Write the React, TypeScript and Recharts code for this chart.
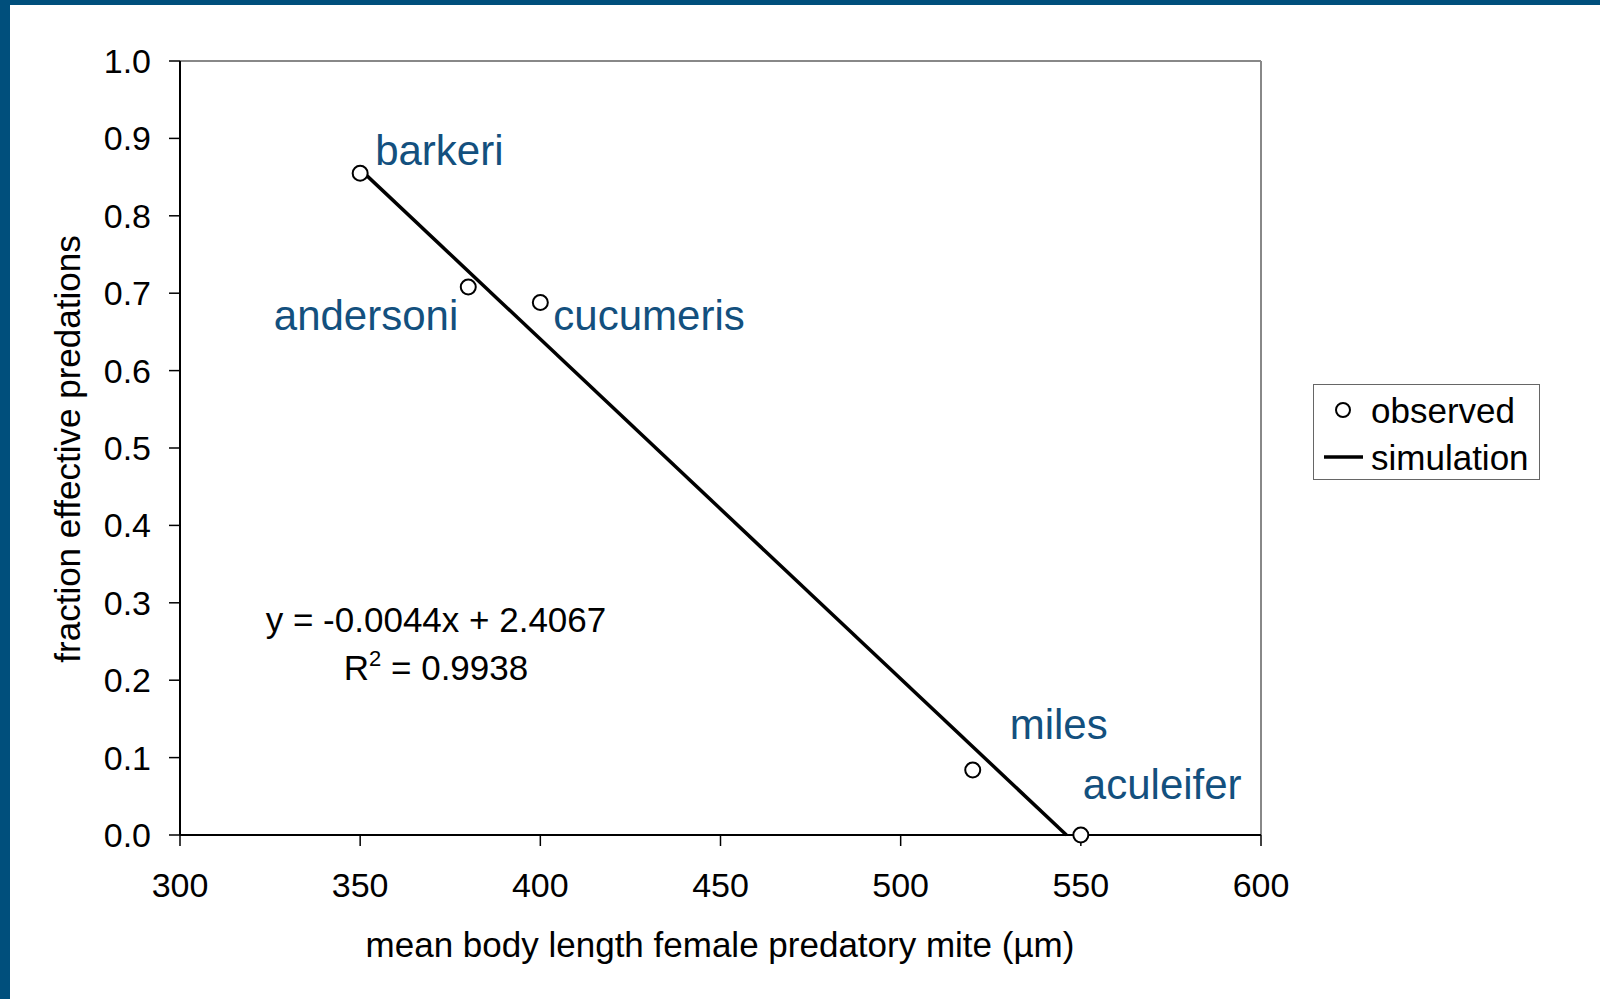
import React from "react";
import {
  ComposedChart,
  Scatter,
  XAxis,
  YAxis,
  ReferenceLine,
  Legend,
} from "recharts";

const FONT = '"Liberation Sans", Arial, sans-serif';
const BLUE = "#13507e";

// observed body length (µm) vs fraction effective predations
const species = ["barkeri", "andersoni", "cucumeris", "miles", "aculeifer"];
const bodyLength = [350, 380, 400, 520, 550];
const fraction = [0.855, 0.708, 0.688, 0.084, 0];

// simulation line
const simLength = [350, 546];
const simFraction = [0.86, 0];

const xTicks = [300, 350, 400, 450, 500, 550, 600];
const yTicks = [0, 0.1, 0.2, 0.3, 0.4, 0.5, 0.6, 0.7, 0.8, 0.9, 1.0];

const observed = species.map((name, i) => ({
  name,
  x: bodyLength[i],
  y: fraction[i],
}));
const simulation = simLength.map((x, i) => ({ x, y: simFraction[i] }));

// where each species name sits relative to its point
const labelOffset: Record<string, { dx: number; dy: number; anchor: string }> = {
  barkeri: { dx: 15, dy: -8, anchor: "start" },
  andersoni: { dx: -10, dy: 43, anchor: "end" },
  cucumeris: { dx: 13, dy: 28, anchor: "start" },
  miles: { dx: 37, dy: -31, anchor: "start" },
  aculeifer: { dx: 2, dy: -36, anchor: "start" },
};

const ObservedPoint = (props: any) => {
  const { cx, cy, payload } = props;
  const off = labelOffset[payload.name];
  return (
    <g>
      <circle cx={cx} cy={cy} r={7.5} fill="#fff" stroke="#000" strokeWidth={2} />
      <text
        x={cx + off.dx}
        y={cy + off.dy}
        textAnchor={off.anchor as any}
        fill={BLUE}
        fontSize={42}
        fontFamily={FONT}
      >
        {payload.name}
      </text>
    </g>
  );
};

const LegendBox = (props: any) => {
  const items = [...(props.payload || [])].sort((a: any, b: any) =>
    a.type === "circle" ? -1 : b.type === "circle" ? 1 : 0
  );
  return (
    <div
      style={{
        width: 227,
        height: 96,
        border: "1px solid #666",
        boxSizing: "border-box",
        background: "#fff",
        position: "relative",
        fontFamily: FONT,
        fontSize: 35,
        color: "#000",
      }}
    >
      {items.map((it: any, i: number) => (
        <div
          key={it.value}
          style={{
            position: "absolute",
            left: 0,
            top: i === 0 ? 4 : 51,
            height: 44,
            width: 225,
          }}
        >
          <svg width={56} height={44} style={{ position: "absolute", left: 0, top: 0 }}>
            {it.type === "circle" ? (
              <circle cx={29} cy={21} r={7} fill="none" stroke="#000" strokeWidth={2} />
            ) : (
              <line x1={10} x2={49} y1={21} y2={21} stroke="#000" strokeWidth={3.5} />
            )}
          </svg>
          <span
            style={{
              position: "absolute",
              left: 57,
              top: 0,
              lineHeight: "44px",
              whiteSpace: "nowrap",
            }}
          >
            {it.value}
          </span>
        </div>
      ))}
    </div>
  );
};

export default function App() {
  return (
    <div
      style={{
        position: "absolute",
        left: 0,
        top: 0,
        width: 1600,
        height: 999,
        background: "#fff",
        fontFamily: FONT,
        overflow: "hidden",
      }}
    >
      <div style={{ position: "absolute", left: 0, top: 0, width: 1600, height: 5, background: "#004f7c" }} />
      <div style={{ position: "absolute", left: 0, top: 0, width: 10, height: 999, background: "#004f7c" }} />
      <ComposedChart
        width={1600}
        height={999}
        margin={{ top: 61, right: 339, bottom: 0, left: 0 }}
        style={{ position: "absolute", left: 0, top: 0 }}
      >
        <XAxis
          type="number"
          dataKey="x"
          domain={[300, 600]}
          ticks={xTicks}
          height={164}
          tickSize={11}
          tickMargin={27}
          axisLine={{ stroke: "#000", strokeWidth: 2 }}
          tickLine={{ stroke: "#000", strokeWidth: 1.5 }}
          tick={{ fill: "#000", fontSize: 34, fontFamily: FONT }}
        />
        <YAxis
          type="number"
          dataKey="y"
          domain={[0, 1]}
          ticks={yTicks}
          width={180}
          tickSize={11}
          tickMargin={18}
          tickFormatter={(v: number) => v.toFixed(1)}
          axisLine={{ stroke: "#000", strokeWidth: 2 }}
          tickLine={{ stroke: "#000", strokeWidth: 1.5 }}
          tick={{ fill: "#000", fontSize: 34, fontFamily: FONT }}
        />
        <ReferenceLine y={1} stroke="#888" strokeWidth={2} />
        <ReferenceLine x={600} stroke="#888" strokeWidth={2} />
        <Scatter
          name="simulation"
          data={simulation}
          line={{ stroke: "#000", strokeWidth: 3.5 }}
          shape={() => <g />}
          legendType="line"
          isAnimationActive={false}
        />
        <Scatter
          name="observed"
          data={observed}
          shape={ObservedPoint}
          legendType="circle"
          isAnimationActive={false}
        />
        <Legend
          layout="horizontal"
          align="center"
          verticalAlign="middle"
          content={LegendBox}
          wrapperStyle={{ left: 1313, top: 384, width: 227, height: 96 }}
        />
        <text x={436} y={632} textAnchor="middle" fontSize={35} fontFamily={FONT} fill="#000">
          y = -0.0044x + 2.4067
        </text>
        <text x={436} y={680} textAnchor="middle" fontSize={35} fontFamily={FONT} fill="#000">
          R<tspan dy={-14} fontSize={22}>2</tspan>
          <tspan dy={14}> = 0.9938</tspan>
        </text>
        <text x={720} y={957} textAnchor="middle" fontSize={35} fontFamily={FONT} fill="#000">
          mean body length female predatory mite (µm)
        </text>
        <text
          x={80}
          y={449}
          textAnchor="middle"
          fontSize={35}
          fontFamily={FONT}
          fill="#000"
          transform="rotate(-90 80 449)"
        >
          fraction effective predations
        </text>
      </ComposedChart>
    </div>
  );
}
